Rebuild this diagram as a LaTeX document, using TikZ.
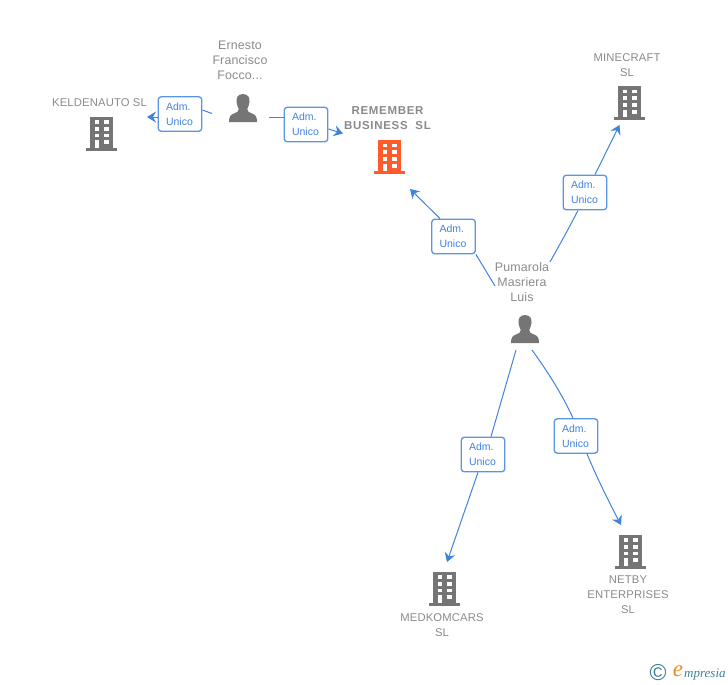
\documentclass[tikz,border=0pt]{standalone}
\usepackage{fontspec}
\setmainfont{Liberation Sans}
\newfontfamily\coname[LetterSpace=1.5]{Liberation Sans}
\newfontfamily\coboldname[LetterSpace=6]{Liberation Sans Bold}
\newfontfamily\pername[LetterSpace=1.2]{Liberation Sans}
\newfontfamily\logoname{Liberation Serif Italic}
\usetikzlibrary{arrows.meta}
\definecolor{txtgrey}{HTML}{8A8A8A}
\definecolor{icongrey}{HTML}{757575}
\definecolor{iconorange}{HTML}{FF5C2E}
\definecolor{linkblue}{HTML}{3F83E0}
\definecolor{boxblue}{HTML}{5A95E4}
\definecolor{logoteal}{HTML}{3F7F9B}
\definecolor{logoorange}{HTML}{F08A1D}
\tikzset{
  company/.style={text=txtgrey,inner sep=0pt,align=center,font=\coname\fontsize{11.25}{15}\selectfont},
  companymain/.style={text=txtgrey,inner sep=0pt,align=center,font=\coboldname\fontsize{11.5}{15}\selectfont},
  person/.style={text=txtgrey,inner sep=0pt,align=center,font=\pername\fontsize{12.4}{15}\selectfont},
  rolebox/.style={draw=boxblue,fill=white,line width=1.3pt,rounded corners=3pt,inner sep=0pt,
    minimum width=43.5pt,minimum height=34.5pt,text width=28pt,align=left,text=linkblue,
    font=\fontsize{10.5}{15}\selectfont},
  link/.style={draw=linkblue,line width=1pt},
  linkarrow/.style={link,-{Stealth[length=9pt,width=11pt,inset=3pt]}},
  pics/building/.style={code={
    \fill[#1] (-11.5,0) rectangle (11.5,31);
    \fill[#1] (-15.5,31) rectangle (15.5,34);
    \foreach \yy in {3.5,10.2,17}{
      \fill[white] (-7,\yy) rectangle (-2.4,\yy+3.8);
      \fill[white] (2.4,\yy) rectangle (7,\yy+3.8);}
    \fill[white] (-7,23.5) rectangle (-2.4,31);
    \fill[white] (2.4,23.8) rectangle (7,27.8);
  }},
  pics/silhouette/.style={code={
    \fill[icongrey] (0,0) .. controls (-5.5,0) and (-7,4.5) .. (-6.5,8)
      .. controls (-6.2,11) and (-5,13.5) .. (-4.2,15)
      .. controls (-4.2,17.5) and (-6,18.5) .. (-9,19.5)
      .. controls (-12.5,20.7) and (-14,22.5) .. (-14,28)
      -- (14,28)
      .. controls (14,22.5) and (12.5,20.7) .. (9,19.5)
      .. controls (6,18.5) and (4.2,17.5) .. (4.2,15)
      .. controls (5,13.5) and (6.2,11) .. (6.5,8)
      .. controls (7,4.5) and (5.5,0) .. (0,0) -- cycle;
  }}
}
\begin{document}
\begin{tikzpicture}[x=1pt,y=-1pt]
\useasboundingbox (0,0) rectangle (728,685);
% icons
\pic at (101.5,116.5) {building=icongrey};
\pic at (389.5,140) {building=iconorange};
\pic at (629.5,86) {building=icongrey};
\pic at (444.5,571.5) {building=icongrey};
\pic at (630.5,534.5) {building=icongrey};
\pic at (243,94) {silhouette};
\pic at (525,315) {silhouette};
% names
\node[person] (ernesto) at (240,60) {Ernesto\\Francisco\\Focco...};
\node[person] (pumarola) at (522,282) {Pumarola\\Masriera\\Luis};
\node[company] (keldenauto) at (99.5,102.5) {KELDENAUTO SL};
\node[companymain] (remember) at (387.5,118) {REMEMBER\\BUSINESS\ \ SL};
\node[company] (minecraft) at (627,65) {MINECRAFT\\SL};
\node[company] (medkomcars) at (442,625.5) {MEDKOMCARS\\SL};
\node[company] (netby) at (628,595) {NETBY\\ENTERPRISES\\SL};
% free ends of the connectors
\coordinate (e1) at (212,113.5);
\coordinate (t1) at (147,117);
\coordinate (e2) at (269,117);
\coordinate (t2) at (343,133.5);
\coordinate (e3) at (495,286);
\coordinate (t3) at (410,189);
\coordinate (e4) at (550,262);
\coordinate (t4) at (619.5,125);
\coordinate (e5) at (516,350);
\coordinate (t5) at (447,562);
\coordinate (e6) at (532,350);
\coordinate (t6) at (621,525);
% role boxes
\node[rolebox] (r1) at (180,114) {Adm.\\Unico};
\node[rolebox] (r2) at (306,124.5) {Adm.\\Unico};
\node[rolebox] (r3) at (453.5,236.5) {Adm.\\Unico};
\node[rolebox] (r4) at (585,192.5) {Adm.\\Unico};
\node[rolebox] (r5) at (483,454.5) {Adm.\\Unico};
\node[rolebox] (r6) at (576,436) {Adm.\\Unico};
% connectors
\draw[link] (e1) -- (r1.east |- 0,110);
\draw[linkarrow] (r1.west |- t1) -- (t1);
\draw[link] (e2) -- (r2.west |- e2);
\draw[linkarrow] (r2.east |- 0,129) -- (t2);
\draw[link] (e3) -- (r3.south east);
\draw[linkarrow] (r3.north -| 440,0) -- (t3);
\draw[link] (e4) .. controls (560,244) and (569,228) .. (r4.south -| 578,0);
\draw[linkarrow] (r4.north -| 595,0) -- (t4);
\draw[link] (e5) -- (r5.north -| 491,0);
\draw[linkarrow] (r5.south -| 478,0) -- (t5);
\draw[link] (e6) .. controls (548,372) and (563,396) .. (r6.north -| 573,0);
\draw[linkarrow] (r6.south -| 587,0) .. controls (597,478) and (609,502) .. (t6);
% logo
\node[inner sep=0pt,text=logoteal,font=\fontsize{23}{23}\selectfont] (copyr) at (658,673) {\char"00A9};
\node[inner sep=0pt,text=logoorange,font=\logoname\fontsize{23}{23}\selectfont] (logoe) at (678,671.5) {e};
\node[inner sep=0pt,text=logoteal,anchor=west,font=\logoname\fontsize{13}{14}\selectfont] (logot) at (684,675) {mpresia};
\end{tikzpicture}
\end{document}
